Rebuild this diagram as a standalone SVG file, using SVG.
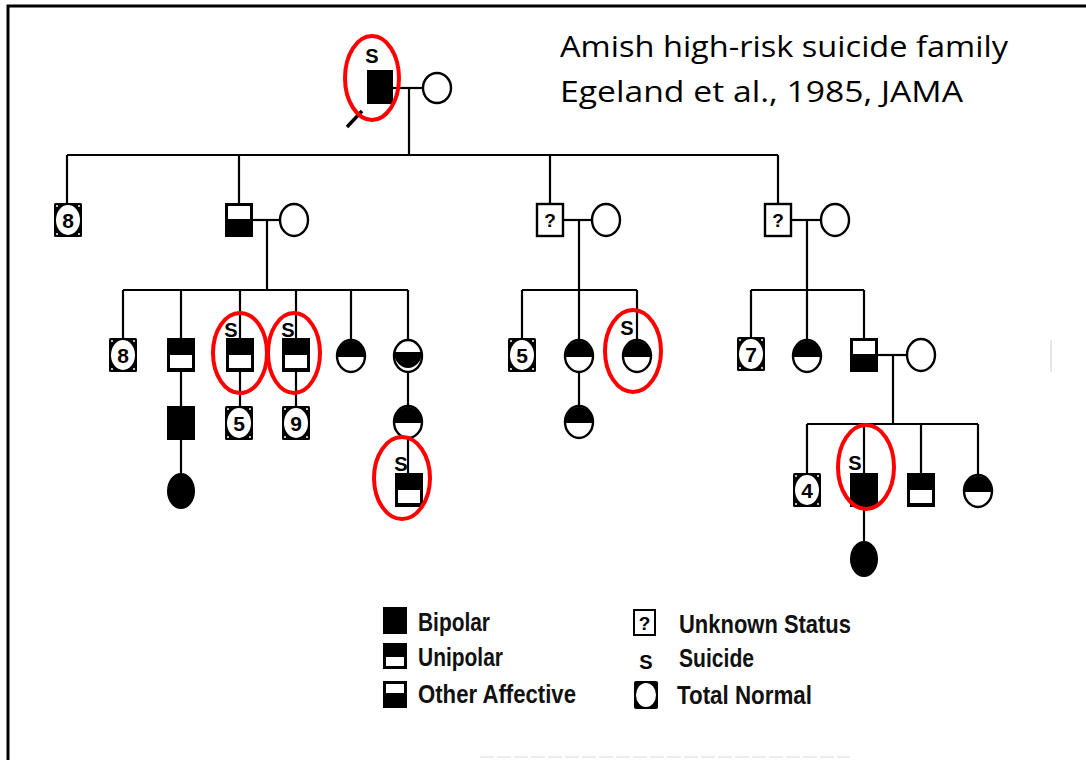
<svg xmlns="http://www.w3.org/2000/svg" width="1086" height="760" viewBox="0 0 1086 760">
<style>
  .ln{stroke:#000;stroke-width:2.2;fill:none}
  .mark{fill:none;stroke:#ff0000;stroke-width:4}
  .s{font-family:"Liberation Sans",Arial,sans-serif;font-size:20px;font-weight:bold;fill:#000}
  .num{font-family:"Liberation Sans",Arial,sans-serif;font-size:21px;font-weight:bold;fill:#000;text-anchor:middle}
  .q{font-family:"Liberation Sans",Arial,sans-serif;font-size:19px;font-weight:bold;fill:#000;text-anchor:middle}
  .leg{font-family:"Liberation Sans",Arial,sans-serif;font-size:25px;font-weight:bold;fill:#111}
  .title{font-family:"Open Sans","Liberation Sans",sans-serif;font-size:30px;fill:#000}
</style>
<defs>
  <!-- male symbols, centred on origin -->
  <g id="mB"><rect x="-14" y="-17" width="28" height="34" fill="#000"/></g>
  <g id="mU"><rect x="-14" y="-17" width="28" height="34" fill="#000"/><rect x="-11" y="0" width="22" height="13" fill="#fff"/></g>
  <g id="mO"><rect x="-14" y="-17" width="28" height="34" fill="#000"/><rect x="-11" y="-14" width="22" height="13" fill="#fff"/></g>
  <g id="mN"><rect x="-14" y="-17" width="28" height="34" rx="1.5" fill="#000"/><ellipse cx="0" cy="0" rx="12" ry="15" fill="#fff"/>
    <circle cx="-11" cy="-14" r="1" fill="#fff"/><circle cx="11" cy="-14" r="1" fill="#fff"/><circle cx="-11" cy="14" r="1" fill="#fff"/><circle cx="11" cy="14" r="1" fill="#fff"/></g>
  <g id="mQ"><rect x="-13" y="-16" width="26" height="32" fill="#fff" stroke="#000" stroke-width="2.4"/><text class="q" x="0" y="7">?</text></g>
  <!-- female symbols -->
  <g id="fW"><ellipse cx="0" cy="0" rx="14" ry="16" fill="#fff" stroke="#000" stroke-width="2.4"/></g>
  <g id="fB"><ellipse cx="0" cy="0" rx="14" ry="18" fill="#000"/></g>
  <g id="fU"><ellipse cx="0" cy="0" rx="14" ry="16" fill="#fff" stroke="#000" stroke-width="2.4"/><path d="M-14,1 A14,16 0 0 1 14,1 Z" fill="#000"/></g>
  <g id="fO"><ellipse cx="0" cy="0" rx="14" ry="16" fill="#fff" stroke="#000" stroke-width="2.4"/><path d="M-14,-4 A14,16 0 0 0 14,-4 Z" fill="#000"/></g>
</defs>

<!-- page frame -->
<g id="frame">
  <path d="M8,760 V6 H1086" fill="none" stroke="#000" stroke-width="3"/>
  <line x1="480" y1="757" x2="850" y2="757" stroke="#e6e6e6" stroke-width="1.5" stroke-dasharray="14 3"/>
  <line x1="1051" y1="340" x2="1051" y2="372" stroke="#ccc" stroke-width="1"/>
</g>

<g id="title">
  <text class="title" x="560" y="57" textLength="448" lengthAdjust="spacingAndGlyphs">Amish high-risk suicide family</text>
  <text class="title" x="560" y="102" textLength="403" lengthAdjust="spacingAndGlyphs">Egeland et al., 1985, JAMA</text>
</g>

<g id="connectors" class="ln">
  <!-- generation I -->
  <line x1="393" y1="88" x2="423" y2="88"/>
  <line x1="409" y1="88" x2="409" y2="155"/>
  <line x1="67" y1="155" x2="778" y2="155"/>
  <line x1="67" y1="155" x2="67" y2="203"/>
  <line x1="239" y1="155" x2="239" y2="203"/>
  <line x1="550" y1="155" x2="550" y2="204"/>
  <line x1="778" y1="155" x2="778" y2="204"/>
  <!-- generation II couples -->
  <line x1="253" y1="220" x2="280" y2="220"/>
  <line x1="267" y1="220" x2="267" y2="290"/>
  <line x1="563" y1="220" x2="592" y2="220"/>
  <line x1="579" y1="220" x2="579" y2="290"/>
  <line x1="791" y1="220" x2="821" y2="220"/>
  <line x1="807" y1="220" x2="807" y2="290"/>
  <!-- generation III sibships -->
  <line x1="123" y1="290" x2="408" y2="290"/>
  <line x1="123" y1="290" x2="123" y2="338"/>
  <line x1="181" y1="290" x2="181" y2="338"/>
  <line x1="240" y1="290" x2="240" y2="338"/>
  <line x1="296" y1="290" x2="296" y2="338"/>
  <line x1="351" y1="290" x2="351" y2="339"/>
  <line x1="408" y1="290" x2="408" y2="339"/>
  <line x1="522" y1="290" x2="637" y2="290"/>
  <line x1="522" y1="290" x2="522" y2="338"/>
  <line x1="579" y1="290" x2="579" y2="339"/>
  <line x1="637" y1="290" x2="637" y2="339"/>
  <line x1="751" y1="290" x2="864" y2="290"/>
  <line x1="751" y1="290" x2="751" y2="338"/>
  <line x1="807" y1="290" x2="807" y2="339"/>
  <line x1="864" y1="290" x2="864" y2="338"/>
  <line x1="878" y1="355" x2="907" y2="355"/>
  <line x1="893" y1="355" x2="893" y2="424"/>
  <!-- generation IV -->
  <line x1="181" y1="372" x2="181" y2="406"/>
  <line x1="181" y1="440" x2="181" y2="473"/>
  <line x1="240" y1="372" x2="240" y2="406"/>
  <line x1="296" y1="372" x2="296" y2="406"/>
  <line x1="408" y1="371" x2="408" y2="406"/>
  <line x1="408" y1="438" x2="408" y2="473"/>
  <line x1="579" y1="371" x2="579" y2="406"/>
  <line x1="807" y1="424" x2="978" y2="424"/>
  <line x1="807" y1="424" x2="807" y2="473"/>
  <line x1="864" y1="424" x2="864" y2="541"/>
  <line x1="921" y1="424" x2="921" y2="473"/>
  <line x1="978" y1="424" x2="978" y2="474"/>
</g>

<!-- generation I -->
<g id="n-I1"><rect x="367" y="70" width="26" height="34" fill="#000"/><text class="s" x="372" y="63" text-anchor="middle" font-size="24">S</text>
  <line x1="347" y1="127" x2="362" y2="111" stroke="#000" stroke-width="3.5"/></g>
<g id="n-I2"><ellipse cx="437" cy="88" rx="14" ry="15" fill="#fff" stroke="#000" stroke-width="2.4"/></g>

<!-- generation II -->
<g id="n-II1"><use href="#mN" x="68" y="220"/><text class="num" x="68" y="228">8</text></g>
<g id="n-II2"><use href="#mO" x="239" y="220"/></g>
<g id="n-II3"><ellipse cx="294" cy="220" rx="14" ry="16" fill="#fff" stroke="#000" stroke-width="2.4"/></g>
<g id="n-II4"><use href="#mQ" x="550" y="220"/></g>
<g id="n-II5"><use href="#fW" x="606" y="220"/></g>
<g id="n-II6"><use href="#mQ" x="778" y="220"/></g>
<g id="n-II7"><use href="#fW" x="835" y="220"/></g>

<!-- generation III -->
<g id="n-III1"><use href="#mN" x="123" y="355"/><text class="num" x="123" y="363">8</text></g>
<g id="n-III2"><use href="#mU" x="181" y="355"/></g>
<g id="n-III3"><use href="#mU" x="240" y="355"/><text class="s" x="231" y="337" text-anchor="middle">S</text></g>
<g id="n-III4"><use href="#mU" x="296" y="355"/><text class="s" x="288" y="337" text-anchor="middle">S</text></g>
<g id="n-III5"><use href="#fU" x="351" y="356"/></g>
<g id="n-III6"><use href="#fO" x="408" y="356"/></g>
<g id="n-III7"><use href="#mN" x="522" y="355"/><text class="num" x="522" y="363">5</text></g>
<g id="n-III8"><use href="#fU" x="579" y="356"/></g>
<g id="n-III9"><use href="#fU" x="637" y="356"/><text class="s" x="627" y="335" text-anchor="middle">S</text></g>
<g id="n-III10"><use href="#mN" x="751" y="354"/><text class="num" x="751" y="362">7</text></g>
<g id="n-III11"><use href="#fU" x="807" y="356"/></g>
<g id="n-III12"><use href="#mO" x="864" y="355"/></g>
<g id="n-III13"><use href="#fW" x="921" y="355"/></g>

<!-- generation IV -->
<g id="n-IV1"><use href="#mB" x="181" y="423"/></g>
<g id="n-IV2"><use href="#mN" x="239" y="423"/><text class="num" x="239" y="431">5</text></g>
<g id="n-IV3"><use href="#mN" x="296" y="423"/><text class="num" x="296" y="431">9</text></g>
<g id="n-IV4"><use href="#fU" x="408" y="422"/></g>
<g id="n-IV5"><use href="#fU" x="579" y="422"/></g>
<g id="n-IV6"><use href="#mN" x="807" y="490"/><text class="num" x="807" y="498">4</text></g>
<g id="n-IV7"><use href="#mB" x="864" y="490"/><text class="s" x="855" y="470" text-anchor="middle">S</text></g>
<g id="n-IV8"><use href="#mU" x="921" y="490"/></g>
<g id="n-IV9"><use href="#fU" x="978" y="491"/></g>

<!-- generation V -->
<g id="n-V1"><use href="#fB" x="181" y="491"/></g>
<g id="n-V2"><use href="#mU" x="409" y="490"/><text class="s" x="401" y="471" text-anchor="middle">S</text></g>
<g id="n-V3"><use href="#fB" x="864" y="559"/></g>

<!-- suicide highlights -->
<g id="highlights">
  <ellipse class="mark" cx="372" cy="78" rx="27" ry="42"/>
  <ellipse class="mark" cx="240" cy="353" rx="27" ry="40"/>
  <ellipse class="mark" cx="294" cy="353" rx="26" ry="40"/>
  <ellipse class="mark" cx="633" cy="351" rx="28" ry="41"/>
  <ellipse class="mark" cx="402" cy="478" rx="28" ry="41"/>
  <ellipse class="mark" cx="866" cy="467" rx="28" ry="42"/>
</g>

<!-- key -->
<g id="legend">
  <rect x="383" y="607" width="24" height="27" fill="#000"/>
  <rect x="383" y="643" width="24" height="26" fill="#000"/><rect x="386" y="657" width="18" height="9" fill="#fff"/>
  <rect x="383" y="681" width="24" height="27" fill="#000"/><rect x="386" y="684" width="18" height="9" fill="#fff"/>
  <text class="leg" x="418" y="631" textLength="72" lengthAdjust="spacingAndGlyphs">Bipolar</text>
  <text class="leg" x="418" y="666" textLength="85" lengthAdjust="spacingAndGlyphs">Unipolar</text>
  <text class="leg" x="418" y="703" textLength="158" lengthAdjust="spacingAndGlyphs">Other Affective</text>
  <rect x="634" y="610" width="21" height="25" fill="#fff" stroke="#000" stroke-width="2"/>
  <text class="q" x="644.5" y="630" font-size="17" font-weight="normal">?</text>
  <text class="s" x="646" y="669" text-anchor="middle" font-size="19" font-weight="normal">S</text>
  <rect x="634" y="681" width="24" height="28" rx="2" fill="#000"/><ellipse cx="646" cy="695" rx="10" ry="12" fill="#fff"/>
  <text class="leg" x="679" y="633" textLength="172" lengthAdjust="spacingAndGlyphs">Unknown Status</text>
  <text class="leg" x="679" y="667" textLength="75" lengthAdjust="spacingAndGlyphs">Suicide</text>
  <text class="leg" x="677" y="704" textLength="135" lengthAdjust="spacingAndGlyphs">Total Normal</text>
</g>
</svg>
